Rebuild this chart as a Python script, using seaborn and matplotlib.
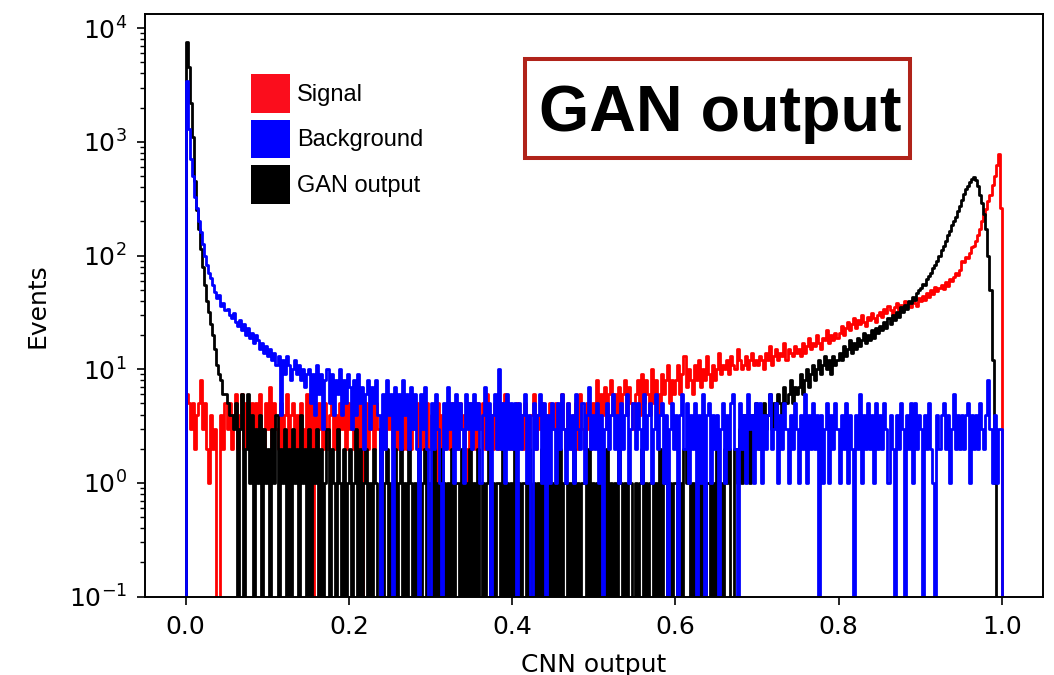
import numpy as np
import matplotlib
matplotlib.use("Agg")
import matplotlib.pyplot as plt
import seaborn as sns
from matplotlib.patches import Patch, Rectangle

# ---------------- data (counts per bin, 400 bins on [0, 1]) ----------------
x_min, x_max, n_bins = 0.0, 1.0, 400

gan_output = [
    7500, 4500, 2200, 1100, 450, 250, 170, 115, 80, 55, 40, 32, 25, 20, 15, 11, 9, 8, 6, 6,
    5, 4, 4, 3, 5, 0, 3, 6, 0, 2, 6, 1, 4, 0, 3, 1, 4, 0, 3, 1,
    2, 0, 3, 1, 4, 0, 2, 1, 3, 0, 2, 0, 3, 1, 2, 0, 4, 1, 2, 0,
    3, 0, 2, 1, 3, 0, 2, 0, 1, 3, 0, 2, 1, 0, 3, 1, 0, 2, 0, 1,
    2, 0, 1, 3, 0, 2, 0, 1, 2, 0, 1, 0, 2, 1, 0, 3, 0, 1, 2, 0,
    1, 0, 2, 0, 1, 2, 0, 1, 0, 2, 1, 0, 1, 0, 2, 0, 1, 2, 0, 1,
    0, 2, 0, 1, 0, 2, 1, 0, 1, 0, 2, 0, 1, 1, 0, 2, 0, 1, 0, 2,
    0, 1, 0, 2, 0, 1, 0, 1, 2, 0, 1, 0, 1, 1, 0, 2, 0, 1, 0, 1,
    0, 2, 0, 1, 0, 1, 1, 0, 2, 0, 1, 0, 1, 0, 2, 0, 1, 1, 0, 1,
    0, 1, 0, 2, 0, 1, 1, 0, 1, 0, 2, 0, 1, 0, 1, 1, 0, 2, 0, 1,
    0, 1, 0, 1, 1, 0, 2, 0, 1, 0, 1, 0, 2, 1, 0, 1, 0, 1, 1, 0,
    1, 0, 1, 2, 0, 1, 0, 1, 1, 0, 1, 0, 2, 0, 1, 1, 0, 1, 0, 1,
    1, 0, 1, 0, 2, 1, 1, 0, 1, 0, 1, 1, 0, 2, 0, 1, 1, 0, 1, 0,
    2, 0, 1, 0, 2, 1, 2, 0, 0, 2, 1, 3, 1, 4, 2, 3, 1, 4, 2, 5,
    3, 2, 4, 5, 3, 4, 6, 3, 5, 4, 6, 5, 4, 7, 5, 6, 8, 5, 7, 6,
    7, 9, 6, 8, 10, 7, 9, 11, 8, 10, 12, 9, 11, 13, 10, 12, 9, 13, 11, 12,
    14, 12, 16, 13, 15, 18, 14, 17, 15, 19, 16, 18, 21, 17, 20, 18, 22, 19, 23, 21,
    24, 22, 26, 23, 28, 25, 30, 27, 32, 29, 35, 32, 37, 34, 40, 38, 43, 41, 47, 50,
    52, 56, 55, 62, 66, 70, 77, 82, 90, 100, 112, 122, 135, 150, 165, 185, 200, 220, 245, 270,
    310, 350, 385, 410, 445, 470, 490, 460, 410, 340, 290, 230, 170, 100, 50, 12, 1, 0, 0, 0,
]

signal = [
    6, 5, 3, 5, 2, 4, 5, 8, 3, 5, 2, 1, 4, 2, 3, 0, 0, 4, 2, 5,
    3, 5, 2, 4, 6, 2, 4, 6, 2, 5, 3, 2, 5, 3, 5, 2, 6, 3, 2, 5,
    3, 7, 2, 5, 3, 2, 5, 2, 4, 6, 2, 4, 5, 2, 4, 2, 5, 3, 2, 6,
    2, 5, 0, 4, 2, 5, 3, 2, 5, 2, 4, 6, 2, 4, 2, 5, 3, 5, 2, 5,
    3, 5, 2, 4, 2, 5, 0, 4, 5, 2, 3, 5, 2, 5, 3, 2, 4, 2, 6, 3,
    5, 2, 4, 2, 5, 3, 2, 5, 2, 4, 2, 5, 3, 5, 2, 4, 2, 3, 5, 2,
    4, 2, 0, 5, 2, 4, 2, 3, 5, 2, 5, 2, 4, 2, 5, 3, 4, 2, 0, 5,
    2, 4, 2, 5, 3, 5, 2, 6, 2, 4, 2, 5, 3, 2, 5, 2, 6, 3, 4, 2,
    4, 2, 5, 3, 4, 2, 5, 3, 2, 4, 6, 2, 4, 3, 5, 2, 4, 2, 5, 3,
    3, 5, 2, 4, 6, 3, 2, 5, 3, 2, 4, 5, 2, 6, 3, 2, 5, 3, 2, 5,
    4, 8, 3, 6, 4, 7, 3, 6, 8, 4, 6, 3, 7, 4, 6, 8, 4, 7, 5, 3,
    6, 8, 4, 9, 5, 8, 6, 4, 10, 5, 8, 6, 4, 9, 6, 8, 11, 5, 8, 6,
    8, 11, 6, 9, 13, 7, 10, 8, 6, 11, 8, 12, 7, 10, 8, 13, 9, 7, 11, 8,
    10, 14, 9, 11, 10, 12, 9, 13, 11, 10, 15, 12, 10, 11, 13, 10, 12, 14, 11, 12,
    11, 13, 12, 10, 14, 12, 16, 11, 13, 15, 12, 14, 13, 17, 12, 15, 14, 13, 16, 14,
    15, 13, 17, 14, 16, 19, 15, 17, 16, 20, 17, 15, 19, 18, 22, 17, 20, 18, 21, 19,
    21, 24, 20, 23, 26, 22, 25, 28, 23, 27, 25, 30, 26, 24, 29, 27, 31, 28, 26, 30,
    32, 29, 34, 31, 36, 33, 30, 35, 38, 33, 37, 34, 40, 36, 39, 35, 41, 38, 36, 42,
    40, 44, 41, 47, 43, 50, 46, 53, 49, 52, 55, 51, 58, 54, 62, 60, 65, 70, 67, 75,
    90, 88, 98, 95, 105, 118, 122, 135, 150, 170, 200, 225, 255, 300, 340, 420, 500, 620, 780, 260,
]

background = [
    3400, 1300, 700, 500, 330, 260, 200, 160, 125, 100, 82, 70, 63, 55, 48, 42, 45, 36, 38, 33,
    34, 30, 28, 31, 26, 24, 27, 22, 25, 20, 23, 19, 21, 17, 20, 18, 15, 17, 14, 16,
    13, 15, 12, 14, 11, 13, 4, 12, 9, 13, 11, 8, 10, 12, 9, 11, 8, 10, 7, 9,
    10, 5, 9, 4, 11, 6, 9, 3, 8, 10, 5, 9, 4, 8, 6, 10, 4, 8, 5, 9,
    7, 3, 8, 4, 9, 5, 7, 2, 6, 8, 3, 7, 5, 8, 4, 0, 6, 2, 8, 4,
    6, 0, 7, 3, 6, 2, 8, 4, 6, 2, 7, 3, 6, 2, 0, 6, 3, 7, 2, 0,
    5, 2, 6, 3, 1, 0, 5, 2, 7, 3, 5, 1, 6, 2, 5, 3, 1, 6, 3, 5,
    2, 6, 3, 5, 1, 4, 7, 2, 5, 0, 4, 6, 2, 10, 2, 5, 1, 6, 2, 5,
    2, 5, 0, 5, 2, 4, 6, 1, 4, 0, 5, 2, 4, 6, 1, 5, 0, 4, 1, 5,
    3, 1, 5, 2, 6, 3, 1, 5, 2, 4, 1, 6, 3, 2, 5, 1, 4, 7, 2, 4,
    2, 5, 1, 4, 0, 3, 5, 2, 4, 6, 2, 4, 1, 5, 2, 4, 6, 1, 3, 5,
    2, 5, 3, 1, 6, 2, 4, 5, 1, 3, 6, 2, 4, 5, 1, 4, 0, 3, 5, 2,
    4, 0, 4, 6, 2, 5, 1, 4, 2, 5, 0, 4, 1, 6, 0, 4, 5, 1, 4, 2,
    4, 0, 3, 5, 1, 4, 2, 5, 6, 2, 0, 5, 2, 4, 1, 6, 3, 4, 1, 5,
    2, 5, 1, 4, 2, 4, 6, 2, 3, 5, 1, 4, 2, 5, 3, 1, 4, 2, 5, 3,
    1, 4, 2, 6, 1, 4, 2, 5, 2, 4, 0, 4, 1, 3, 5, 1, 4, 2, 5, 3,
    1, 4, 2, 5, 1, 4, 2, 0, 4, 2, 6, 1, 4, 2, 5, 2, 4, 1, 5, 2,
    4, 2, 5, 3, 1, 4, 2, 0, 4, 2, 5, 3, 0, 4, 2, 5, 1, 5, 2, 4,
    3, 0, 4, 2, 5, 2, 1, 0, 4, 2, 4, 5, 2, 4, 1, 3, 6, 2, 4, 2,
    4, 2, 4, 5, 1, 4, 2, 4, 2, 5, 3, 2, 4, 8, 3, 1, 4, 1, 3, 3,
]

series_names = ["Signal", "Background", "GAN output"]
series_colors = ["#ff0000", "#0000ff", "#000000"]
legend_colors = ["#fb0d1c", "#0000ff", "#000000"]
x_ticks = [0.0, 0.2, 0.4, 0.6, 0.8, 1.0]

assert len(gan_output) == n_bins and len(signal) == n_bins and len(background) == n_bins

# ---------------- figure ----------------
sns.set_style("ticks")
plt.rcParams["font.family"] = ["DejaVu Sans"]
plt.rcParams["text.color"] = "black"
plt.rcParams["axes.labelcolor"] = "black"
plt.rcParams["xtick.color"] = "black"
plt.rcParams["ytick.color"] = "black"

fig = plt.figure(figsize=(10.54, 6.75), dpi=100)
ax = fig.add_axes([0.1375, 0.116, 0.8516, 0.8633])

edges = np.linspace(x_min, x_max, n_bins + 1)
width = edges[1] - edges[0]
# one empty bin on each side so the outline drops to the floor at both ends
ext_edges = np.concatenate([[edges[0] - width], edges, [edges[-1] + width]])
ext_centers = 0.5 * (ext_edges[:-1] + ext_edges[1:])


def draw(counts, color):
    w = np.concatenate([[0.0], np.asarray(counts, dtype=float), [0.0]])
    sns.histplot(x=ext_centers, weights=w, bins=[float(b) for b in ext_edges],
                 element="step", fill=False, color=color, linewidth=2.0, ax=ax)


# drawing order: signal, GAN output, background (background on top)
draw(signal, series_colors[0])
draw(gan_output, series_colors[2])
draw(background, series_colors[1])

ax.set_yscale("log")
ax.set_ylim(0.1, 1.33e4)
ax.set_xlim(-0.05, 1.05)
ax.set_xticks(x_ticks)

for s in ax.spines.values():
    s.set_visible(True)
    s.set_linewidth(1.4)
    s.set_color("black")

ax.tick_params(axis="both", which="major", labelsize=18, length=6, width=1.2,
               direction="out", color="black", labelcolor="black", pad=7)
ax.tick_params(axis="y", which="minor", length=3.5, width=1.0, direction="out",
               color="black")
ax.tick_params(axis="x", which="minor", bottom=False)

ax.set_xlabel("CNN output", fontsize=18, labelpad=10, color="black")
ax.set_ylabel("Events", fontsize=18, labelpad=14, color="black")

handles = [Patch(facecolor=c, edgecolor="none") for c in legend_colors]
ax.legend(handles, series_names, loc="upper left", bbox_to_anchor=(0.1179, 0.897),
          frameon=False, borderpad=0, borderaxespad=0, handlelength=1.67,
          handleheight=2.14, handletextpad=0.3, labelspacing=0.3,
          prop={"family": "Liberation Sans", "size": 17.0})

rect = Rectangle((0.4984, 0.7659), 0.3647, 0.1471, transform=fig.transFigure,
                 facecolor="white", edgecolor="#b0231a", linewidth=2.9, zorder=10)
fig.add_artist(rect)
fig.text(0.6831, 0.806, "GAN output", ha="center", va="baseline", fontsize=46.5,
         fontweight="bold", family="Liberation Sans", color="black", zorder=11)

fig.savefig("out.png", dpi=100)
